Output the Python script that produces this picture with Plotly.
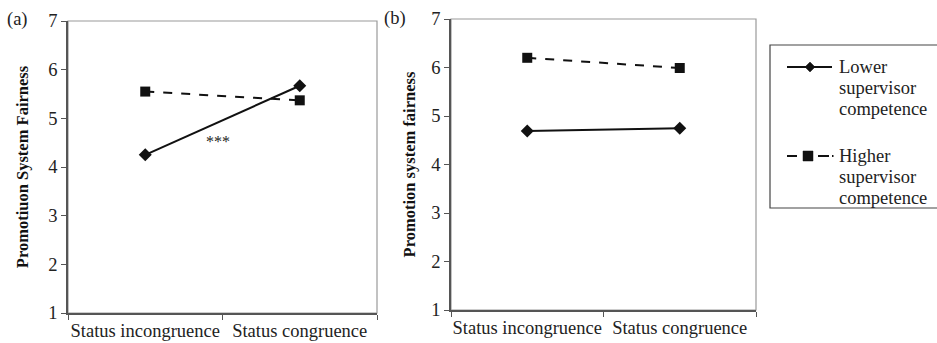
import plotly.graph_objects as go

categories = ["Status incongruence", "Status congruence"]
a_lower = [4.25, 5.67]
a_higher = [5.55, 5.37]
b_lower = [4.69, 4.75]
b_higher = [6.20, 5.99]
y_ticks = [1, 2, 3, 4, 5, 6, 7]
legend_lines = [["Lower", "supervisor", "competence"], ["Higher", "supervisor", "competence"]]
titles = ["Promotiuon System Fairness", "Promotion system fairness"]

W, H = 937, 343
FONT = "Liberation Serif"
INK = "#111111"

fig = go.Figure()

def px_x(v):
    return v / W

def px_y(v):
    return 1 - v / H

panels = [
    dict(xa="x", ya="y", xd=[px_x(68), px_x(377)], yd=[px_y(313), px_y(21)],
         lower=a_lower, higher=a_higher, title=titles[0], label="(a)", lx=5, ly=20, so=16),
    dict(xa="x2", ya="y2", xd=[px_x(451), px_x(756)], yd=[px_y(310), px_y(19)],
         lower=b_lower, higher=b_higher, title=titles[1], label="(b)", lx=382, ly=18, so=12),
]

for i, p in enumerate(panels):
    fig.add_trace(go.Scatter(
        x=categories, y=p["lower"], xaxis=p["xa"], yaxis=p["ya"],
        mode="lines+markers", name="Lower supervisor competence", showlegend=False,
        line=dict(color=INK, width=2),
        marker=dict(symbol="diamond", size=10, color=INK),
    ))
    fig.add_trace(go.Scatter(
        x=categories, y=p["higher"], xaxis=p["xa"], yaxis=p["ya"],
        mode="lines+markers", name="Higher supervisor competence", showlegend=False,
        line=dict(color=INK, width=2, dash="dash"),
        marker=dict(symbol="square", size=10, color=INK),
    ))
    suffix = "" if i == 0 else "2"
    fig.update_layout(**{
        "xaxis" + suffix: dict(
            domain=p["xd"], type="category", anchor=p["ya"], automargin=False,
            range=[-0.5, 1.5], tickson="boundaries", ticks="outside", ticklen=5,
            tickangle=0,
            tickcolor="#555555", showline=True, linecolor="#555555", linewidth=1.5,
            showgrid=False, zeroline=False,
            tickfont=dict(family=FONT, size=18.5, color="#222222"),
        ),
        "yaxis" + suffix: dict(
            domain=p["yd"], anchor=p["xa"], range=[1, 7], tickvals=y_ticks,
            automargin=False,
            ticks="outside", ticklen=5, tickcolor="#555555",
            showline=True, linecolor="#555555", linewidth=1.5,
            showgrid=False, zeroline=False,
            tickfont=dict(family=FONT, size=18.5, color="#222222"),
            title=dict(text="<b>" + p["title"] + "</b>", standoff=p["so"],
                       font=dict(family=FONT, size=16.5, color=INK)),
        ),
    })
    fig.add_shape(type="rect", xref=p["xa"] + " domain", yref=p["ya"] + " domain",
                  x0=0, x1=1, y0=0, y1=1, line=dict(color="#9a9a9a", width=1.2),
                  layer="below")
    fig.add_annotation(text=p["label"], xref="paper", yref="paper",
                       x=px_x(p["lx"]), y=px_y(p["ly"]), xanchor="left", yanchor="middle",
                       showarrow=False, font=dict(family=FONT, size=18.5, color="#222222"))

fig.add_annotation(text="***", xref="x", yref="y", x=0.47, y=4.53,
                   showarrow=False, font=dict(family=FONT, size=16, color="#222222"))

# ---- legend (drawn by hand so the serif font and layout are kept) ----
fig.add_shape(type="rect", xref="paper", yref="paper",
              x0=px_x(770), x1=1.01, y0=px_y(208), y1=px_y(45),
              line=dict(color="#444444", width=1.2))

key_y = [67, 156]
line_gap = 21
for k, lines in enumerate(legend_lines):
    yk = key_y[k]
    if k == 0:
        fig.add_shape(type="line", xref="paper", yref="paper",
                      x0=px_x(787), x1=px_x(832), y0=px_y(yk), y1=px_y(yk),
                      line=dict(color=INK, width=2))
        cx = 810
        path = "M {a},{b} L {c},{d} L {a},{e} L {f},{d} Z".format(
            a=px_x(cx), b=px_y(yk - 5), c=px_x(cx + 5), d=px_y(yk), e=px_y(yk + 5), f=px_x(cx - 5))
        fig.add_shape(type="path", xref="paper", yref="paper", path=path,
                      fillcolor=INK, line=dict(color=INK, width=0.5))
    else:
        for x0, x1 in [(787, 797), (818, 829)]:
            fig.add_shape(type="line", xref="paper", yref="paper",
                          x0=px_x(x0), x1=px_x(x1), y0=px_y(yk), y1=px_y(yk),
                          line=dict(color=INK, width=2))
        fig.add_shape(type="line", xref="paper", yref="paper",
                      x0=px_x(832), x1=px_x(833.5), y0=px_y(yk), y1=px_y(yk),
                      line=dict(color=INK, width=2))
        cx = 808
        fig.add_shape(type="rect", xref="paper", yref="paper",
                      x0=px_x(cx - 5), x1=px_x(cx + 5), y0=px_y(yk + 5), y1=px_y(yk - 5),
                      fillcolor=INK, line=dict(color=INK, width=0.5))
    for j, t in enumerate(lines):
        fig.add_annotation(text=t, xref="paper", yref="paper",
                           x=px_x(837), y=px_y(yk + j * line_gap),
                           xanchor="left", yanchor="middle", showarrow=False,
                           font=dict(family=FONT, size=18.5, color="#222222"))

fig.update_layout(
    width=W, height=H,
    margin=dict(l=0, r=0, t=0, b=0, autoexpand=False),
    paper_bgcolor="white", plot_bgcolor="white",
    font=dict(family=FONT, size=18.5, color="#222222"),
    showlegend=False,
)

fig.write_html("out.html", config={"displayModeBar": False},
               post_script="document.body.style.margin='0';")
